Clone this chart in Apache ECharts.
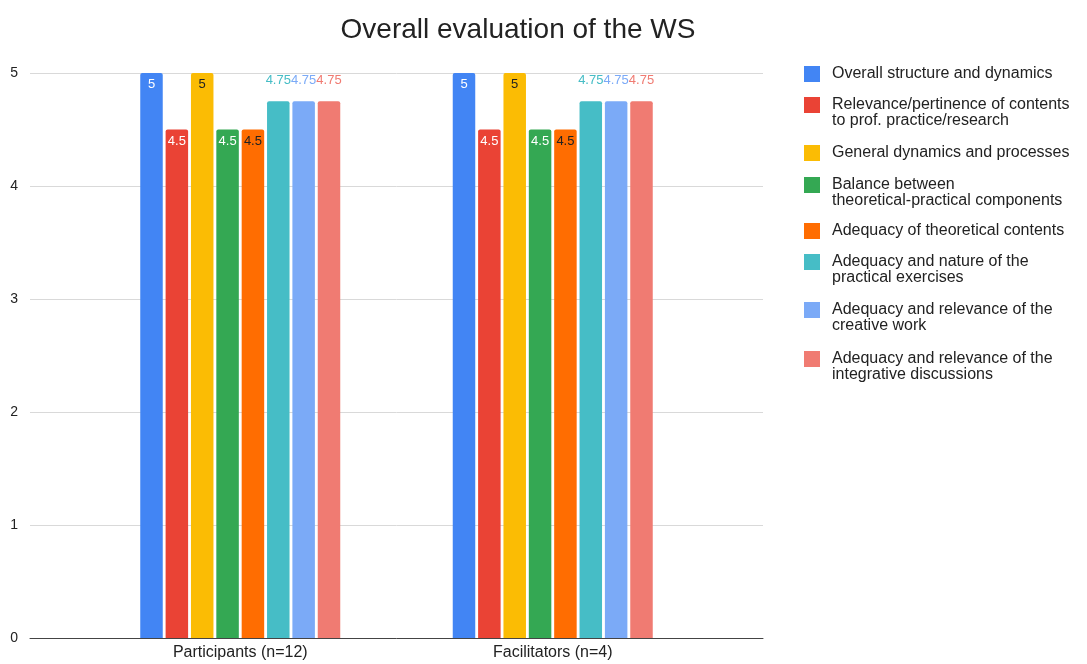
<!DOCTYPE html>
<html>
<head>
<meta charset="utf-8">
<script src="https://cdn.jsdelivr.net/npm/echarts@6/dist/echarts.min.js"></script>
<style>
  html, body { margin: 0; padding: 0; background: #fff; }
  #chart { width: 1087px; height: 664px; }
</style>
</head>
<body>
<div id="chart"></div>
<script>
const categories = ['Participants (n=12)', 'Facilitators (n=4)']
const seriesNames = [
  'Overall structure and dynamics',
  'Relevance/pertinence of contents to prof. practice/research',
  'General dynamics and processes',
  'Balance between theoretical-practical components',
  'Adequacy of theoretical contents',
  'Adequacy and nature of the practical exercises',
  'Adequacy and relevance of the creative work',
  'Adequacy and relevance of the integrative discussions'
]
// how the legend wraps each name
const legendLabels = [
  'Overall structure and dynamics',
  'Relevance/pertinence of contents\nto prof. practice/research',
  'General dynamics and processes',
  'Balance between\ntheoretical-practical components',
  'Adequacy of theoretical contents',
  'Adequacy and nature of the\npractical exercises',
  'Adequacy and relevance of the\ncreative work',
  'Adequacy and relevance of the\nintegrative discussions'
]
const participants = [5, 4.5, 5, 4.5, 4.5, 4.75, 4.75, 4.75]
const facilitators = [5, 4.5, 5, 4.5, 4.5, 4.75, 4.75, 4.75]
const colors = ['#4285F4', '#EA4335', '#FBBC04', '#34A853', '#FF6D01', '#46BDC6', '#7BAAF7', '#F07B72']
const labelColors = ['#fff', '#fff', '#222', '#fff', '#222', null, null, null]
const legendTops = [66, 97, 145, 177, 223, 254, 302, 351]

const font = "'Liberation Sans', Arial, sans-serif"
const chart = echarts.init(document.getElementById('chart'))

const series = seriesNames.map((name, i) => {
  const inside = labelColors[i] !== null
  return {
    name: name,
    type: 'bar',
    xAxisIndex: 1,
    yAxisIndex: 1,
    barWidth: 22.5,
    barGap: '12.7%',
    itemStyle: { color: colors[i], borderRadius: [2, 2, 0, 0] },
    label: {
      show: true,
      position: inside ? 'insideTop' : 'top',
      distance: inside ? 5 : 14,
      color: inside ? labelColors[i] : colors[i],
      fontSize: 13,
      fontFamily: font
    },
    data: [participants[i], facilitators[i]]
  }
})

// one legend per entry so the icon can sit on the first text line
const legends = seriesNames.map((name, i) => {
  const twoLines = legendLabels[i].indexOf('\n') >= 0
  return {
    orient: 'vertical',
    left: 804,
    top: legendTops[i],
    padding: 0,
    itemWidth: 16,
    itemHeight: twoLines ? 32 : 16,
    icon: twoLines ? 'path://M0,0h16v16h-16zM0,32h0.01v-0.01h-0.01z' : 'rect',
    selectedMode: false,
    textStyle: { fontFamily: font, fontSize: 16, color: '#222', lineHeight: 16, padding: [0, 0, 0, 7] },
    data: [name],
    formatter: () => legendLabels[i]
  }
})

const option = {
  animation: false,
  backgroundColor: '#fff',
  color: colors,
  title: {
    text: 'Overall evaluation of the WS',
    left: 513,
    textAlign: 'center',
    top: 11,
    textStyle: { fontFamily: font, fontSize: 28, fontWeight: 'normal', color: '#222' }
  },
  legend: legends,
  grid: [
    { left: 30, right: 324, top: 73, bottom: 26 },
    { left: 84, right: 378, top: 73, bottom: 26 }
  ],
  xAxis: [
    {
      gridIndex: 0,
      type: 'category',
      data: categories,
      axisLine: { show: true, lineStyle: { color: '#444', width: 1 } },
      axisTick: { show: false },
      axisLabel: { show: false }
    },
    {
      gridIndex: 1,
      type: 'category',
      data: categories,
      axisLine: { show: false },
      axisTick: { show: false },
      axisLabel: { fontFamily: font, fontSize: 16, color: '#222', margin: 7 }
    }
  ],
  yAxis: [
    {
      gridIndex: 0,
      type: 'value',
      min: 0,
      max: 5,
      interval: 1,
      axisLabel: { fontFamily: font, fontSize: 14, color: '#222', margin: 12 },
      splitLine: { lineStyle: { color: '#d9d9d9' } }
    },
    {
      gridIndex: 1,
      type: 'value',
      min: 0,
      max: 5,
      interval: 1,
      show: false,
      splitLine: { show: false }
    }
  ],
  series: series
}

chart.setOption(option)
</script>
</body>
</html>
